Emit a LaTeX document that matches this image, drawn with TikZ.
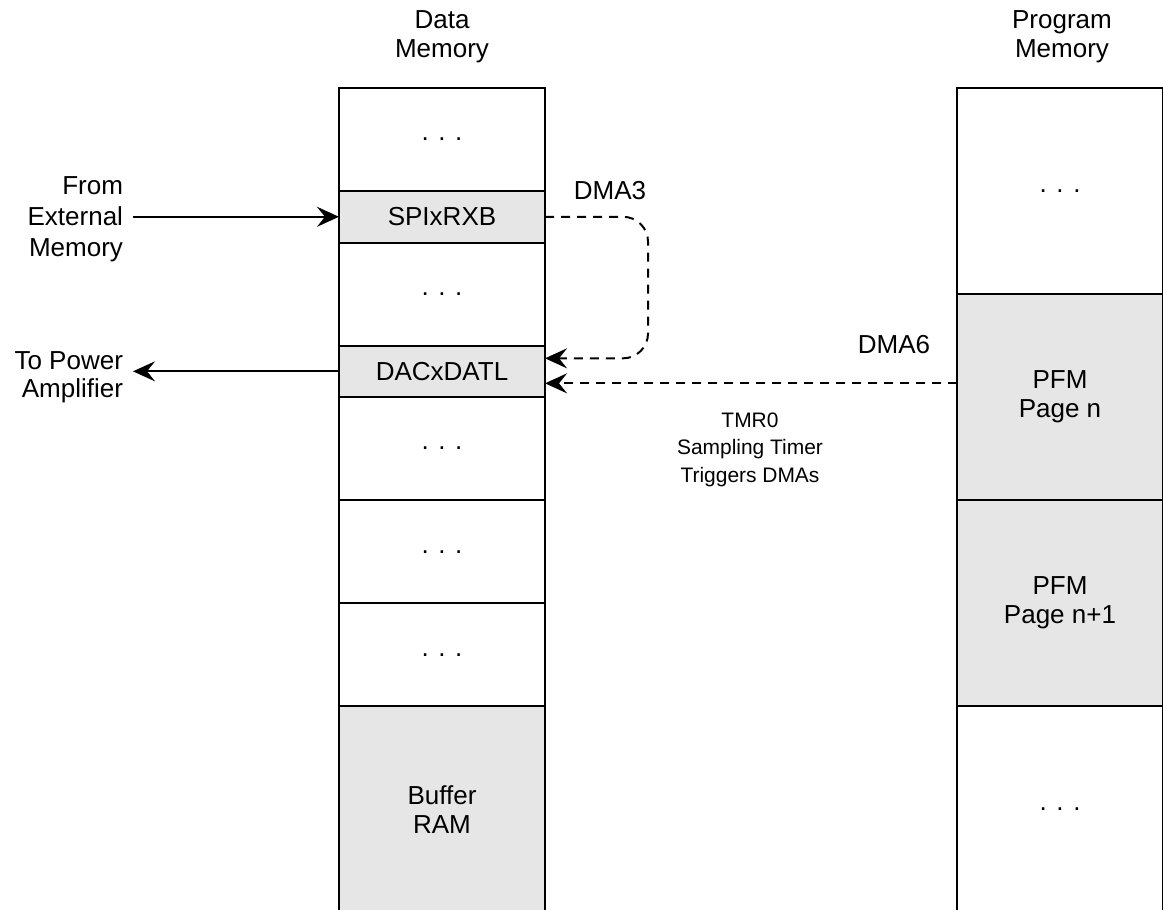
\documentclass[tikz,border=0pt]{standalone}
\usepackage{fontspec}
\setmainfont{Liberation Sans}
\usetikzlibrary{positioning,calc,arrows.meta}
\definecolor{cellgray}{HTML}{E6E6E6}

\begin{document}
\begin{tikzpicture}[x=0.025cm,y=-0.025cm,
		line width=1.4pt,
		mem cell/.style={rectangle,draw,outer sep=0pt,inner sep=0pt,
			minimum width=5.15cm,minimum height=2.575cm,align=center,
			font=\fontsize{18.5}{20.6}\selectfont},
		half cell/.style={mem cell,minimum height=1.2875cm},
		tall cell/.style={mem cell,minimum height=5.15cm},
		used/.style={fill=cellgray},
		title/.style={align=center,inner sep=0pt,font=\fontsize{18.5}{20.6}\selectfont},
		side label/.style={align=right,inner xsep=0.225cm,inner ysep=0pt},
		dma label/.style={inner sep=0pt,font=\fontsize{18.5}{20.6}\selectfont},
		data arrow/.style={-{Stealth[length=0.55cm,width=0.5cm,inset=0.2cm]}},
		dma arrow/.style={data arrow,dash pattern=on 0.225cm off 0.175cm}]
		
		\useasboundingbox (0,0) rectangle (1163,909);
		\clip (0,0) rectangle (1163,909);
		
		% data memory
		\node[title] (dtitle) at (442,36.7) {Data\\Memory};
		\node[mem cell, anchor=north] (dtop) at (442,88) {. . .};
		\node[half cell, used] (spi) [below=0pt of dtop] {SPIxRXB};
		\node[mem cell] (dgap) [below=0pt of spi] {. . .};
		\node[half cell, used] (dac) [below=0pt of dgap] {DACxDATL};
		\node[mem cell] (dlow1) [below=0pt of dac] {. . .};
		\node[mem cell] (dlow2) [below=0pt of dlow1] {. . .};
		\node[mem cell] (dlow3) [below=0pt of dlow2] {. . .};
		\node[tall cell, used] (buf) [below=0pt of dlow3] {Buffer\\RAM};
		
		% program memory
		\node[title] (ptitle) at (1062,36.7) {Program\\Memory};
		\node[tall cell, anchor=north] (ptop) at (1060,88) {. . .};
		\node[tall cell, used] (pfmn) [below=0pt of ptop] {PFM\\Page n};
		\node[tall cell, used] (pfmnext) [below=0pt of pfmn] {PFM\\Page n+1};
		\node[tall cell] (pbot) [below=0pt of pfmnext] {. . .};
		
		% outside world
		\node[side label, anchor=east, font=\fontsize{18.5}{22}\selectfont] (extmem) at (133,219.5) {From\\External\\Memory};
		\node[side label, anchor=east, font=\fontsize{18.5}{19.9}\selectfont] (amp) at (133,377) {To Power\\Amplifier};
		
		\draw[data arrow] (extmem.east |- spi.west) -- (spi.west);
		\draw[data arrow] (dac.west) -- (amp.east |- dac.west);
		
		% dma transfers
		\coordinate (dma3 in) at ($(dac.east)+(0,-13)$);
		\coordinate (dma6 in) at ($(dac.east)+(0,12)$);
		\draw[dma arrow, rounded corners=0.625cm] (spi.east) -- ($(spi.east)+(103,0)$) |- (dma3 in);
		\draw[dma arrow] (pfmn.west |- dma6 in) -- (dma6 in);
		
		\node[dma label] (dma3) at (610,191) {DMA3};
		\node[dma label] (dma6) at (894,344.5) {DMA6};
		\node[align=center, inner sep=0pt, font=\fontsize{14.9}{19.5}\selectfont] (tmr) at (750,449.5) {TMR0\\Sampling Timer\\Triggers DMAs};
\end{tikzpicture}
\end{document}
